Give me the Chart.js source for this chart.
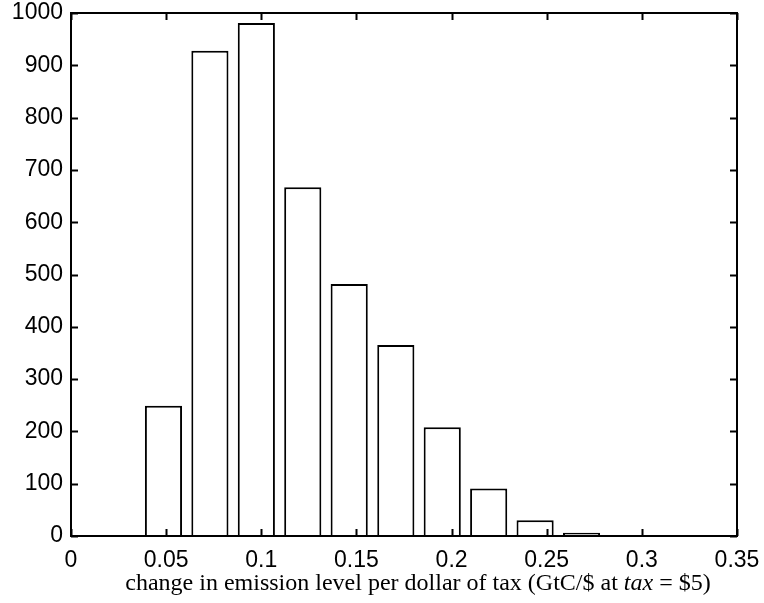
<!DOCTYPE html>
<html>
<head>
<meta charset="utf-8">
<script src="https://cdn.jsdelivr.net/npm/chart.js@4.4.1/dist/chart.umd.min.js"></script>
<style>
  html, body { margin: 0; padding: 0; background: #fff; }
  #wrap { position: relative; width: 764px; height: 603px; }
  #xlabel {
    position: absolute; left: 0; width: 836px; top: 570px;
    text-align: center; white-space: nowrap;
    font-family: "Liberation Serif", "Times New Roman", serif;
    font-size: 24px; line-height: 24px; color: #000;
  }
</style>
</head>
<body>
<div id="wrap">
  <canvas id="myChart" width="764" height="603"></canvas>
  <div id="xlabel">change in emission level per dollar of tax (GtC/$ at <i>tax</i> = $5)</div>
</div>
<script>
// histogram bins (centres) and counts
const binCenters = [0.0486, 0.0730, 0.0974, 0.1218, 0.1462, 0.1707, 0.1951, 0.2195, 0.2439, 0.2683];
const counts = [249, 928, 981, 667, 482, 365, 208, 91, 30, 6];
const xTicks = [0, 0.05, 0.1, 0.15, 0.2, 0.25, 0.3, 0.35];
const xTickLabels = ["0", "0.05", "0.1", "0.15", "0.2", "0.25", "0.3", "0.35"];
const yTicks = [0, 100, 200, 300, 400, 500, 600, 700, 800, 900, 1000];
const yTickLabels = ["0", "100", "200", "300", "400", "500", "600", "700", "800", "900", "1000"];

const tickFont = { family: "'Liberation Sans', Arial, sans-serif", size: 23 };

// keep the axes from pushing the plot area in for overhanging labels
function noPad(scale) {
  scale.paddingLeft = 0;
  scale.paddingRight = 0;
  scale.paddingTop = 0;
  scale.paddingBottom = 0;
}

// box round the axes with ticks pointing inwards on all four sides
const boxPlugin = {
  id: "box",
  afterDraw(chart) {
    const c = chart.ctx;
    const a = chart.chartArea;
    const xs = chart.scales.x, ys = chart.scales.y;
    const len = 7;
    c.save();
    c.strokeStyle = "#000";
    c.lineWidth = 2;
    c.strokeRect(a.left, a.top, a.right - a.left, a.bottom - a.top);
    c.beginPath();
    xTicks.forEach(function(v) {
      const px = Math.round(xs.getPixelForValue(v)) + 0.5;
      c.moveTo(px, a.bottom); c.lineTo(px, a.bottom - len);
      c.moveTo(px, a.top); c.lineTo(px, a.top + len);
    });
    yTicks.forEach(function(v) {
      const py = Math.round(ys.getPixelForValue(v)) + 0.5;
      c.moveTo(a.left, py); c.lineTo(a.left + len, py);
      c.moveTo(a.right, py); c.lineTo(a.right - len, py);
    });
    c.stroke();
    c.restore();
  }
};

const data = {
  datasets: [{
    data: binCenters.map(function(x, i) { return { x: x, y: counts[i] }; }),
    backgroundColor: "#fff",
    borderColor: "#000",
    borderWidth: 2,
    barPercentage: 0.8,
    categoryPercentage: 1
  }]
};

const config = {
  type: "bar",
  data: data,
  options: {
    responsive: false,
    animation: false,
    layout: { padding: { left: 0, top: 13, right: 27, bottom: 0 } },
    plugins: { legend: { display: false }, tooltip: { enabled: false } },
    scales: {
      x: {
        type: "linear",
        min: 0,
        max: 0.35,
        offset: false,
        grid: { display: false, drawTicks: false },
        border: { display: false },
        afterBuildTicks: function(scale) {
          scale.ticks = xTicks.map(function(v) { return { value: v }; });
        },
        afterFit: function(scale) { scale.height = 67; noPad(scale); },
        ticks: {
          color: "#000",
          font: tickFont,
          padding: 11,
          maxRotation: 0,
          autoSkip: false,
          callback: function(v, i) { return xTickLabels[i]; }
        }
      },
      y: {
        min: 0,
        max: 1000,
        grid: { display: false, drawTicks: false },
        border: { display: false },
        afterBuildTicks: function(scale) {
          scale.ticks = yTicks.map(function(v) { return { value: v }; });
        },
        afterFit: function(scale) { scale.width = 71; noPad(scale); },
        ticks: {
          color: "#000",
          font: tickFont,
          padding: 8,
          autoSkip: false,
          callback: function(v, i) { return yTickLabels[i]; }
        }
      }
    }
  },
  plugins: [boxPlugin]
};

let myChart = new Chart(document.getElementById("myChart"), config);
</script>
</body>
</html>
